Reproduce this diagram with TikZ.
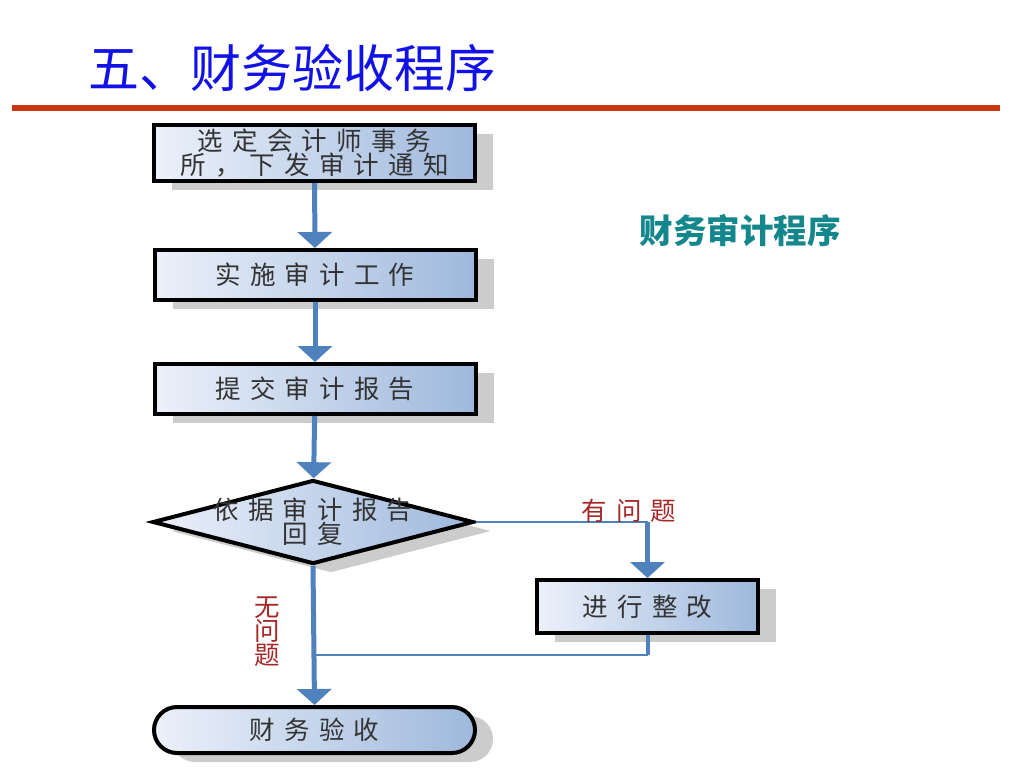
\documentclass[tikz,border=0pt]{standalone}
\usepackage{fontspec}
\usetikzlibrary{arrows.meta,shapes.geometric,shapes.misc,shadows}
\newfontfamily\cjk{Noto Sans CJK SC}
\newfontfamily\cjkwide[LetterSpace=36]{Noto Sans CJK SC}
\definecolor{titleblue}{RGB}{18,18,230}
\definecolor{rulered}{RGB}{200,55,15}
\definecolor{flowblue}{RGB}{79,129,189}
\definecolor{boxlight}{RGB}{236,241,250}
\definecolor{boxdark}{RGB}{158,184,220}
\definecolor{labelred}{RGB}{165,40,40}
\definecolor{tealtext}{RGB}{20,135,140}

\begin{document}
\begin{tikzpicture}[x=1pt,y=-1pt,
    boxtext/.style={font=\cjkwide\fontsize{25.5}{24}\selectfont, align=center, text=black!80},
    boxshadow/.style={drop shadow={shadow xshift=18pt, shadow yshift=-9pt, fill=black!20, opacity=1}},
    procbox/.style={boxtext, draw=black, line width=4pt, left color=boxlight, right color=boxdark,
        minimum width=321pt, minimum height=50pt, inner sep=0pt, boxshadow},
    decision/.style={diamond, draw=black, line width=4pt, left color=boxlight, right color=boxdark,
        minimum width=321pt, minimum height=84pt, inner sep=0pt, boxshadow},
    terminal/.style={rounded rectangle, boxtext, draw=black, line width=4pt, left color=boxlight, right color=boxdark,
        minimum width=321pt, minimum height=46pt, inner sep=0pt, boxshadow},
    flowarrow/.style={draw=flowblue, line width=5pt, -{Triangle[width=34pt,length=16pt]}},
    thinline/.style={draw=flowblue, line width=1.5pt},
    branchlabel/.style={font=\cjkwide\fontsize{25.5}{24}\selectfont, text=labelred, align=center}]
    \useasboundingbox (0,0) rectangle (1024,768);

    % Title and rule
    \node[anchor=west, font=\cjk\fontsize{51}{60}\selectfont, text=titleblue] (title) at (85,68) {五、财务验收程序};
    \draw[rulered, line width=6pt] (12,108) -- (1000,108);
    \node[font=\cjk\bfseries\fontsize{33.5}{36}\selectfont, text=tealtext] (subtitle) at (740,231) {财务审计程序};

    % Main column
    \node[procbox, minimum height=56pt] (notice) at (314.5,153) {选定会计师事务\\所，下发审计通知};
    \node[procbox] (audit) at (315,275) {实施审计工作};
    \node[procbox] (report) at (315,389) {提交审计报告};
    \node[decision, label={[boxtext]center:{依据审计报告\\回复}}] (check) at (313,522) {};
    \node[procbox, minimum width=221pt, minimum height=53pt] (fix) at (647.5,606.5) {进行整改};
    \node[terminal] (accept) at (314.5,730) {财务验收};

    \draw[flowarrow] (notice) -- (audit);
    \draw[flowarrow] (audit) -- (report);
    \draw[flowarrow] (report) -- (check);
    \draw[flowarrow] (check.south) -- (accept.north);

    % Branch with problems
    \coordinate (turn) at (fix.north |- check.east);
    \draw[thinline] (check.east) -- (turn);
    \draw[flowarrow] (turn) -- (fix.north);
    \coordinate (back) at ([yshift=-20pt]fix.south);
    \coordinate (join) at (check.south |- back);
    \draw[draw=flowblue, line width=4pt] (fix.south) -- (back);
    \draw[thinline] (back) -- (join);

    % Branch labels
    \node[branchlabel] (yes) at (629,511) {有问题};
    \node[branchlabel] (no) at (267,632) {无\\问\\题};
\end{tikzpicture}
\end{document}
